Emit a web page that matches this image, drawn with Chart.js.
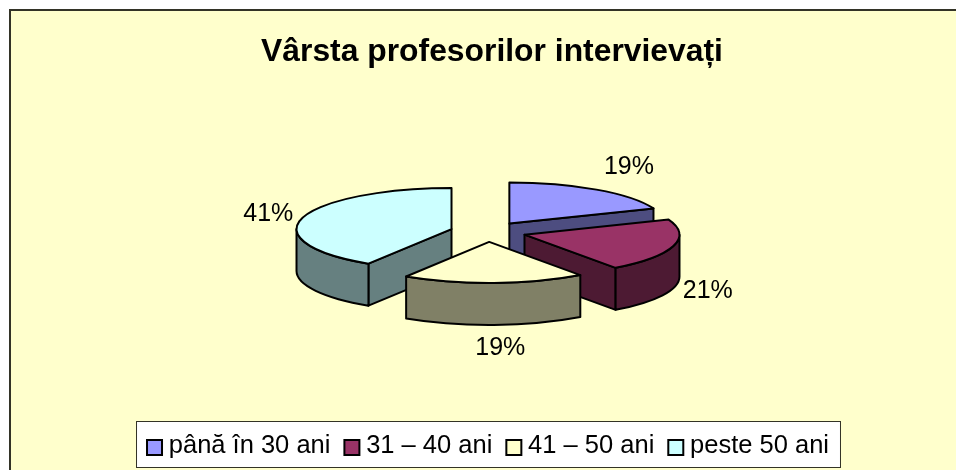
<!DOCTYPE html>
<html><head><meta charset="utf-8">
<script src="https://cdn.jsdelivr.net/npm/chart.js@4"></script>
<style>html,body{margin:0;padding:0;background:#fff;overflow:hidden}canvas{display:block}</style>
</head><body><div style="width:956px;height:470px"><canvas id="c"></canvas></div>
<script>
const categories = ['până în 30 ani', '31 – 40 ani', '41 – 50 ani', 'peste 50 ani'];
const values = [19, 21, 19, 41];
const percentLabels = ['19%', '21%', '19%', '41%'];
const topColors = ['#9999FF', '#993366', '#FFFFCC', '#CCFFFF'];
const sideColors = ['#4D4D80', '#4D1A33', '#808066', '#668080'];
const drawOrder = [0, 3, 1, 2];
const titleText = 'Vârsta profesorilor intervievați';

const RX = 155, SQUASH = 41 / 155, DEPTH = 42, EXPLODE = 38;
const FONT = '"Liberation Sans", Arial, sans-serif';
const LEGEND_FONT = 25.5, SWATCH = 15, TITLE_SHIFT = 4;
const LABEL_NUDGE = [[10, -2], [-4, -4], [5, -2], [4, 3]];

function sliceCentre(a) {
  const mid = (a.startAngle + a.endAngle) / 2;
  return { x: a.x + Math.cos(mid) * EXPLODE, y: a.y + Math.sin(mid) * EXPLODE * SQUASH, mid };
}

function paintSlice(ctx, a, i) {
  const { x, y } = sliceCentre(a);
  const rx = a.outerRadius, ry = rx * SQUASH;
  const s = a.startAngle, e = a.endAngle;
  ctx.lineWidth = 2; ctx.strokeStyle = '#000'; ctx.lineJoin = 'round';
  ctx.fillStyle = sideColors[i];
  const wall = (ang) => {
    const px = x + rx * Math.cos(ang), py = y + ry * Math.sin(ang);
    ctx.beginPath(); ctx.moveTo(x, y); ctx.lineTo(px, py); ctx.lineTo(px, py + DEPTH);
    ctx.lineTo(x, y + DEPTH); ctx.closePath(); ctx.fill(); ctx.stroke();
  };
  if (-Math.cos(s) > 1e-6) wall(s);
  if (Math.cos(e) > 1e-6) wall(e);
  for (let k = -1; k <= 1; k++) {
    const lo = Math.max(s, k * 2 * Math.PI), hi = Math.min(e, k * 2 * Math.PI + Math.PI);
    if (hi > lo) {
      ctx.beginPath();
      ctx.ellipse(x, y, rx, ry, 0, lo, hi);
      ctx.ellipse(x, y + DEPTH, rx, ry, 0, hi, lo, true);
      ctx.closePath(); ctx.fill(); ctx.stroke();
    }
  }
  ctx.fillStyle = topColors[i];
  ctx.beginPath(); ctx.moveTo(x, y); ctx.ellipse(x, y, rx, ry, 0, s, e); ctx.closePath();
  ctx.fill(); ctx.stroke();
}

const frame = {
  id: 'frame',
  afterLayout(chart) {
    chart.titleBlock.left += TITLE_SHIFT;
    chart.titleBlock.right += TITLE_SHIFT;
  },
  beforeDraw(chart) {
    const c = chart.ctx, W = chart.width, H = chart.height;
    c.save();
    c.fillStyle = '#fff'; c.fillRect(0, 0, W, H);
    c.fillStyle = '#FFFFCC'; c.fillRect(10, 10, W - 10, H - 10);
    c.strokeStyle = '#333326'; c.lineWidth = 2;
    c.beginPath(); c.moveTo(10, H); c.lineTo(10, 10); c.lineTo(W, 10); c.stroke();
    const boxes = chart.legend.legendHitBoxes;
    const last = boxes[boxes.length - 1];
    const left = boxes[0].left - 11, right = last.left + last.width + 11;
    c.fillStyle = '#fff'; c.fillRect(left + .5, 421.5, right - left, 46);
    c.strokeStyle = '#333326'; c.lineWidth = 1; c.strokeRect(left + .5, 421.5, right - left, 46);
    c.restore();
  },
  afterDraw(chart) {
    const c = chart.ctx;
    c.save();
    c.strokeStyle = '#000'; c.lineWidth = 2;
    chart.legend.legendHitBoxes.forEach((b, i) => {
      const y = Math.round(b.top + b.height / 2 - SWATCH / 2 + 1);
      c.fillStyle = topColors[i];
      c.fillRect(b.left, y, SWATCH, SWATCH);
      c.strokeRect(b.left, y, SWATCH, SWATCH);
    });
    c.restore();
  }
};

const pie3d = {
  id: 'pie3d',
  beforeDatasetsDraw(chart) {
    const ctx = chart.ctx, arcs = chart.getDatasetMeta(0).data;
    ctx.save();
    drawOrder.forEach(i => paintSlice(ctx, arcs[i], i));
    ctx.fillStyle = '#000'; ctx.font = '25px ' + FONT;
    ctx.textAlign = 'center'; ctx.textBaseline = 'middle';
    arcs.forEach((a, i) => {
      const { x, y, mid } = sliceCentre(a);
      const sin = Math.sin(mid), cos = Math.cos(mid);
      const lx = x + (a.outerRadius + 40) * cos + LABEL_NUDGE[i][0];
      const ly = y + (a.outerRadius * SQUASH + 25) * sin + (sin > 0 ? DEPTH : 0) + LABEL_NUDGE[i][1];
      ctx.fillText(percentLabels[i], lx, ly);
    });
    ctx.restore();
    return false;
  }
};

new Chart(document.getElementById('c'), {
  type: 'pie',
  data: { labels: categories, datasets: [{ data: values, backgroundColor: topColors, borderColor: '#000', borderWidth: 2, radius: RX }] },
  plugins: [frame, pie3d],
  options: {
    responsive: true, maintainAspectRatio: false, animation: false,
    layout: { padding: { left: 20, right: 0, top: 0, bottom: 1 } },
    plugins: {
      title: { display: true, text: titleText, color: '#000', font: { family: FONT, size: 31.85, weight: 'bold' }, padding: { top: 33, bottom: -27 } },
      legend: {
        position: 'bottom', align: 'center',
        labels: { color: '#000', font: { family: FONT, size: LEGEND_FONT }, boxWidth: 9, boxHeight: 15, padding: 14,
          generateLabels: () => categories.map((t, i) => ({ text: t, fillStyle: 'rgba(0,0,0,0)', strokeStyle: 'rgba(0,0,0,0)', lineWidth: 0, index: i })) }
      },
      tooltip: { enabled: false }
    }
  }
});
</script></body></html>
